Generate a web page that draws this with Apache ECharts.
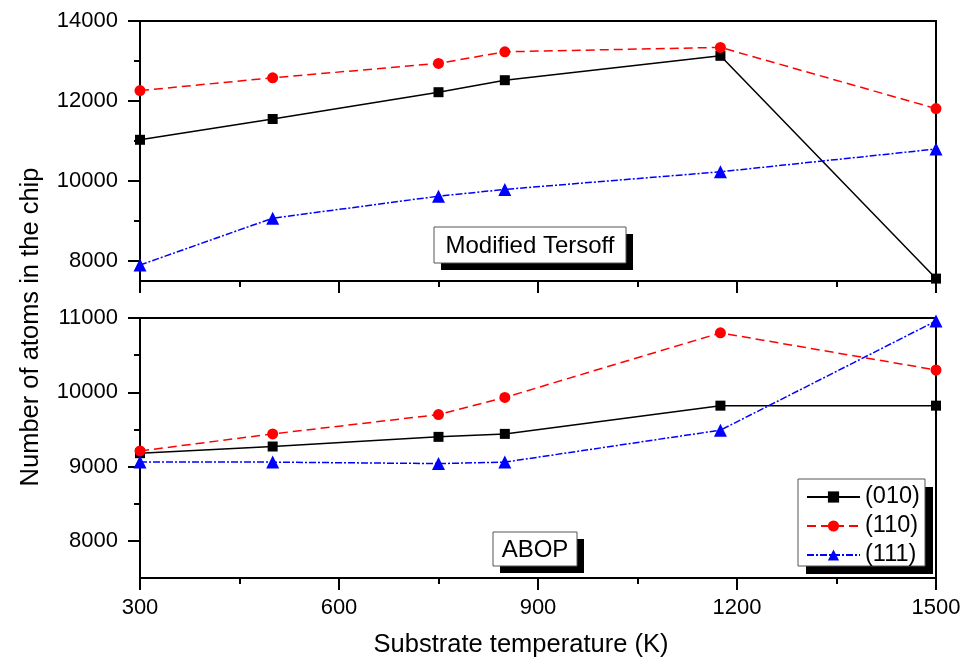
<!DOCTYPE html>
<html>
<head>
<meta charset="utf-8">
<title>Number of atoms in the chip vs substrate temperature</title>
<script src="https://cdn.jsdelivr.net/npm/echarts@6/dist/echarts.min.js"></script>
<style>
  html, body { margin: 0; padding: 0; background: #fff; }
  #chart { width: 970px; height: 664px; }
</style>
</head>
<body>
<div id="chart"></div>
<script>
// Substrate temperatures (K)
const temps = [300, 500, 750, 850, 1175, 1500];

// Modified Tersoff potential
const tersoff010 = [11030, 11550, 12220, 12520, 13130, 7560];
const tersoff110 = [12260, 12580, 12940, 13230, 13340, 11810];
const tersoff111 = [7900, 9070, 9620, 9790, 10230, 10800];

// ABOP potential
const abop010 = [9180, 9270, 9400, 9440, 9820, 9820];
const abop110 = [9210, 9440, 9700, 9930, 10800, 10300];
const abop111 = [9060, 9060, 9040, 9060, 9490, 10960];

const seriesNames = ['(010)', '(110)', '(111)'];

// Axis ticks
const xMin = 300, xMax = 1500, xStep = 300;
const topMajor = [8000, 10000, 12000, 14000];
const topMinor = [9000, 11000, 13000];
const botMajor = [8000, 9000, 10000, 11000];
const botMinor = [8500, 9500, 10500];

const FONT = "'Liberation Sans', Arial, sans-serif";

const styles = [
  { color: '#000000', symbol: 'rect', symbolSize: 10, type: 'solid' },
  { color: '#ff0000', symbol: 'circle', symbolSize: 11, type: [9, 5] },
  { color: '#0000ff', symbol: 'triangle', symbolSize: 13, type: [7, 2, 2, 2] }
];

function pairs(ys) { return temps.map((t, i) => [t, ys[i]]); }

function lineSeries(k, ys, xi, yi) {
  const s = styles[k];
  return {
    name: seriesNames[k],
    type: 'line',
    xAxisIndex: xi,
    yAxisIndex: yi,
    data: pairs(ys),
    symbol: s.symbol,
    symbolSize: s.symbolSize,
    showAllSymbol: true,
    clip: true,
    lineStyle: { color: s.color, width: 1.5, type: s.type },
    itemStyle: { color: s.color, borderWidth: 0 },
    emphasis: { disabled: true },
    z: 3 + k
  };
}

function xAxis(gridIndex, showLabels) {
  return {
    type: 'value', gridIndex: gridIndex,
    min: xMin, max: xMax, interval: xStep,
    axisLine: { show: true, lineStyle: { color: '#000', width: 2 } },
    axisTick: { show: true, inside: false, length: 12, lineStyle: { color: '#000', width: 2 } },
    minorTick: { show: true, splitNumber: 2, length: 6, lineStyle: { color: '#000', width: 2 } },
    axisLabel: {
      show: showLabels, margin: 19, color: '#000', fontSize: 22, fontFamily: FONT,
      formatter: v => String(v)
    },
    splitLine: { show: false },
    minorSplitLine: { show: false }
  };
}

function yAxis(gridIndex, min, max, values, major) {
  return {
    type: 'value', gridIndex: gridIndex, position: 'left',
    min: min, max: max,
    axisLine: { show: major, lineStyle: { color: '#000', width: 2 } },
    axisTick: {
      show: true, inside: false, length: major ? 12 : 6,
      customValues: values,
      lineStyle: { color: '#000', width: 2 }
    },
    axisLabel: {
      show: major, customValues: values, margin: 22,
      color: '#000', fontSize: 22, fontFamily: FONT,
      formatter: v => String(v)
    },
    splitLine: { show: false }
  };
}

// A framed label with a solid drop shadow
function shadowBox(x, y, w, h, off, text) {
  const children = [
    { type: 'rect', shape: { x: x + off, y: y + off, width: w, height: h }, style: { fill: '#000' } },
    { type: 'rect', shape: { x: x, y: y, width: w, height: h }, style: { fill: '#fff', stroke: '#555', lineWidth: 1 } }
  ];
  if (text) {
    children.push({
      type: 'text', x: x + w / 2, y: y + h / 2 + 1,
      style: { text: text, fill: '#000', font: '24px ' + FONT, align: 'center', verticalAlign: 'middle' }
    });
  }
  return { type: 'group', z: 5, children: children };
}

const chart = echarts.init(document.getElementById('chart'), null, { renderer: 'canvas' });

chart.setOption({
  animation: false,
  backgroundColor: '#fff',
  textStyle: { fontFamily: FONT },
  grid: [
    { left: 140, top: 21, width: 796, height: 260, show: true, borderColor: '#000', borderWidth: 2, backgroundColor: 'transparent' },
    { left: 140, top: 318, width: 796, height: 260, show: true, borderColor: '#000', borderWidth: 2, backgroundColor: 'transparent' }
  ],
  xAxis: [ xAxis(0, false), xAxis(1, true) ],
  yAxis: [
    yAxis(0, 7500, 14000, topMajor, true),
    yAxis(0, 7500, 14000, topMinor, false),
    yAxis(1, 7500, 11000, botMajor, true),
    yAxis(1, 7500, 11000, botMinor, false)
  ],
  legend: {
    data: seriesNames,
    orient: 'vertical',
    left: 798, top: 481,
    padding: [4, 6, 3, 8],
    itemWidth: 53, itemHeight: 14, itemGap: 5,
    z: 10,
    textStyle: { fontSize: 23.5, lineHeight: 22, color: '#000', fontFamily: FONT },
    selectedMode: false
  },
  series: [
    lineSeries(0, tersoff010, 0, 0),
    lineSeries(1, tersoff110, 0, 0),
    lineSeries(2, tersoff111, 0, 0),
    lineSeries(0, abop010, 1, 2),
    lineSeries(1, abop110, 1, 2),
    lineSeries(2, abop111, 1, 2)
  ],
  graphic: [
    shadowBox(434, 227, 192, 36, 7, 'Modified Tersoff'),
    shadowBox(493, 532, 84, 34, 7, 'ABOP'),
    shadowBox(798, 479, 127, 87, 8, null),
    {
      type: 'text', x: 31, y: 327, rotation: Math.PI / 2,
      style: {
        text: 'Number of atoms in the chip', fill: '#000',
        font: '25.5px ' + FONT, align: 'center', verticalAlign: 'middle'
      }
    },
    {
      type: 'text', x: 521, y: 645,
      style: {
        text: 'Substrate temperature (K)', fill: '#000',
        font: '25.5px ' + FONT, align: 'center', verticalAlign: 'middle'
      }
    }
  ]
});
</script>
</body>
</html>
